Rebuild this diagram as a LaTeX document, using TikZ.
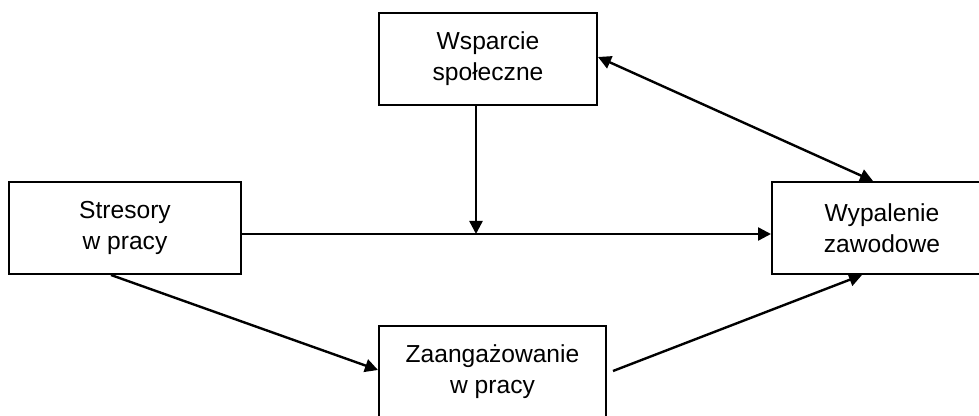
\documentclass[tikz,border=0pt]{standalone}
\usepackage{fontspec}
\setmainfont{Liberation Sans}
\usetikzlibrary{arrows.meta}
\tikzset{
  box/.style={draw, line width=1pt, rectangle, inner sep=0pt, align=center,
    minimum height=46pt, font=\fontsize{12.3}{15.5}\selectfont},
  arr/.style={line width=1.2pt, -{Triangle[length=6.5pt,width=6.5pt]}},
  darr/.style={line width=1.2pt, {Triangle[length=6.5pt,width=6.5pt]}-{Triangle[length=6.5pt,width=6.5pt]}},
  plain/.style={line width=1.2pt}
}
\begin{document}
\begin{tikzpicture}[x=0.5pt,y=-0.5pt]
\clip (0,0) rectangle (979,416);
\fill[white] (0,0) rectangle (979,416);
\node[box, minimum width=109pt] (ws) at (488,59) {Wsparcie\\społeczne};
\node[box, minimum width=116pt] (st) at (125,228) {Stresory\\w pracy};
\node[box, minimum width=116pt] (wy) at (888,228) {\hspace*{-6pt}Wypalenie\\\hspace*{-6pt}zawodowe};
\node[box, minimum width=113.5pt] (za) at (492.5,372) {Zaangażowanie\\w pracy};
\coordinate (m) at (476,234);
\draw[arr] ([yshift=-3pt]st.east) -- ([yshift=-3pt]wy.west);
\draw[arr] ([xshift=-6pt]ws.south) -- (m);
\draw[darr] ([yshift=1pt]ws.east) -- ([xshift=-7.5pt]wy.north);
\draw[arr] ([xshift=-7pt]st.south) -- ([yshift=1pt]za.west);
\draw[arr] ([xshift=3pt,yshift=0.5pt]za.east) -- ([xshift=-13pt]wy.south);
\end{tikzpicture}
\end{document}
